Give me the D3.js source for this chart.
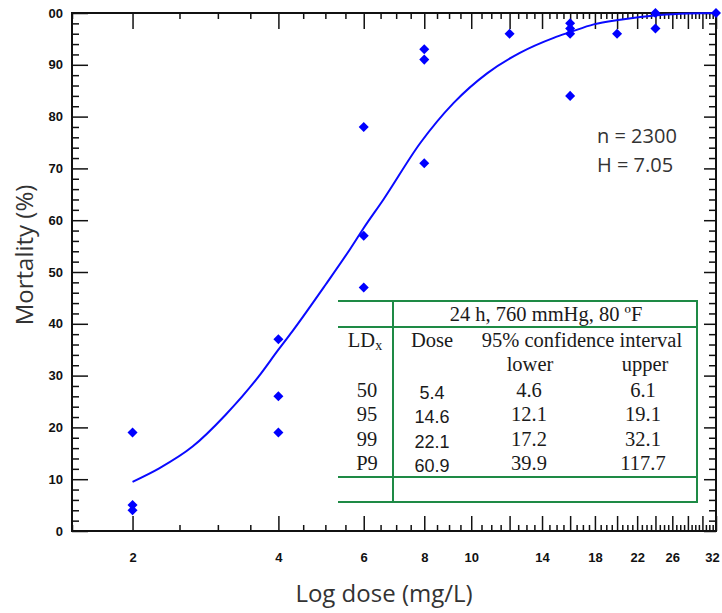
<!DOCTYPE html>
<html>
<head>
<meta charset="utf-8">
<script src="https://cdn.jsdelivr.net/npm/d3@7"></script>
<style>
  body { margin: 0; background: #fff; }
  svg { display: block; }
  .axis text { font-family: "Liberation Sans", Arial, sans-serif; font-weight: bold; font-size: 13px; fill: #111; }
</style>
</head>
<body>
<script>
// observed mortality per dose (diamonds)
var obsDose = [2, 2, 2, 4, 4, 4, 6, 6, 6, 8, 8, 8, 12, 16, 16, 16, 16, 20, 24, 24, 32];
var obsMort = [19, 5, 4, 37, 26, 19, 78, 57, 47, 93, 91, 71, 96, 98, 97, 96, 84, 96, 100, 97, 100];

// fitted curve
var fitDose = [2.0, 2.27, 2.66, 3.11, 3.64, 4.0, 4.27, 5.0, 5.63, 6.0, 6.59, 7.85, 9.19, 10.8, 12.6, 14.8, 16.0, 17.9, 20.3, 24.5, 28, 32];
var fitMort = [9.5, 12.1, 16.3, 22.4, 29.8, 35.0, 38.5, 47.5, 54.5, 58.5, 64.0, 74.9, 82.6, 88.4, 92.3, 95.2, 96.3, 97.8, 98.7, 99.6, 99.9, 100];

// axis ticks
var xTickLabels = [2, 4, 6, 8, 10, 14, 18, 22, 26, 32];
var yTickValues = [0, 10, 20, 30, 40, 50, 60, 70, 80, 90, 100];
var yTickLabels = ["0", "10", "20", "30", "40", "50", "60", "70", "80", "90", "00"];

// LD table
var ldLevels = ["50", "95", "99", "P9"];
var ldDose = ["5.4", "14.6", "22.1", "60.9"];
var ldLower = ["4.6", "12.1", "17.2", "39.9"];
var ldUpper = ["6.1", "19.1", "32.1", "117.7"];

var margin = {left: 72, right: 6, top: 13, bottom: 82};
var width = 722 - margin.left - margin.right;   // 644
var height = 613 - margin.top - margin.bottom;  // 518

var x = d3.scaleLog().base(2).domain([1.5, 32]).range([0, width]);
var y = d3.scaleLinear().domain([0, 100]).range([height, 0]);

// tick positions: majors at even doses, minors every 0.5
var xMajor = d3.range(2, 33, 2);
var xMinor = d3.range(1.5, 32, 0.5).filter(function(d) { return d % 2 !== 0; });
var yMinor = d3.range(0, 101, 2).filter(function(d) { return d % 10 !== 0; });

var svg = d3.select("body").append("svg").attr("width", 722).attr("height", 613);
var g = svg.append("g").attr("transform", "translate(" + margin.left + "," + margin.top + ")");

function cleanAxis(sel) {
  sel.select(".domain").remove();
  sel.selectAll(".tick line").attr("stroke", "#111").attr("stroke-width", 1.5);
}

// bottom axis (ticks pointing up)
g.append("g").attr("class", "axis").attr("transform", "translate(0," + height + ")")
  .call(d3.axisBottom(x).tickValues(xMinor).tickSize(-6).tickFormat(""))
  .call(cleanAxis);
g.append("g").attr("class", "axis").attr("transform", "translate(0," + height + ")")
  .call(d3.axisBottom(x).tickValues(xMajor).tickSize(-15).tickPadding(22)
    .tickFormat(function(d) { return xTickLabels.indexOf(d) >= 0 ? d : ""; }))
  .call(cleanAxis)
  .selectAll(".tick text").attr("dx", function(d) { return d === 32 ? -4 : 0; });

// top axis (ticks pointing down)
g.append("g").attr("class", "axis")
  .call(d3.axisTop(x).tickValues(xMinor).tickSize(-6).tickFormat(""))
  .call(cleanAxis);
g.append("g").attr("class", "axis")
  .call(d3.axisTop(x).tickValues(xMajor).tickSize(-16).tickFormat(""))
  .call(cleanAxis);

// left axis (ticks pointing right)
g.append("g").attr("class", "axis")
  .call(d3.axisLeft(y).tickValues(yMinor).tickSize(-7).tickFormat(""))
  .call(cleanAxis);
g.append("g").attr("class", "axis")
  .call(d3.axisLeft(y).tickValues(yTickValues).tickSize(-16).tickPadding(9)
    .tickFormat(function(d, i) { return yTickLabels[i]; }))
  .call(cleanAxis);

// right axis (ticks pointing left)
g.append("g").attr("class", "axis").attr("transform", "translate(" + width + ",0)")
  .call(d3.axisRight(y).tickValues(yMinor).tickSize(-7).tickFormat(""))
  .call(cleanAxis);
g.append("g").attr("class", "axis").attr("transform", "translate(" + width + ",0)")
  .call(d3.axisRight(y).tickValues(yTickValues).tickSize(-12).tickFormat(""))
  .call(cleanAxis);

// frame
g.append("path")
  .attr("d", "M0,0V" + height + "H" + width + "V0Z")
  .attr("fill", "none").attr("stroke", "#111").attr("stroke-width", 2);

// fitted curve
var line = d3.line()
  .x(function(d, i) { return x(fitDose[i]); })
  .y(function(d) { return y(d); })
  .curve(d3.curveMonotoneX);
g.append("path").datum(fitMort)
  .attr("d", line)
  .attr("fill", "none").attr("stroke", "#0a0aff").attr("stroke-width", 2);

// observations
g.append("g").selectAll("path")
  .data(obsMort)
  .enter().append("path")
    .attr("transform", function(d, i) { return "translate(" + x(obsDose[i]) + "," + y(d) + ")"; })
    .attr("d", d3.symbol(d3.symbolDiamond2, 64))
    .attr("fill", "#0000ff");

// axis titles
svg.append("text")
  .attr("x", 384).attr("y", 602)
  .attr("text-anchor", "middle")
  .attr("font-family", "Open Sans").attr("font-size", 24).attr("fill", "#333")
  .text("Log dose (mg/L)");
svg.append("text")
  .attr("transform", "translate(33,255) rotate(-90)")
  .attr("text-anchor", "middle")
  .attr("font-family", "Open Sans").attr("font-size", 24).attr("fill", "#333")
  .text("Mortality (%)");

// n and H
svg.append("text").attr("x", 597).attr("y", 143)
  .attr("font-family", "Open Sans").attr("font-size", 20).attr("fill", "#333")
  .text("n = 2300");
svg.append("text").attr("x", 597).attr("y", 172)
  .attr("font-family", "Open Sans").attr("font-size", 20).attr("fill", "#333")
  .text("H = 7.05");

// LD table
var green = "#1e8a45";
var tbl = svg.append("g");
tbl.append("rect").attr("x", 338).attr("y", 301).attr("width", 359).attr("height", 201).attr("fill", "#fff");
[301, 327, 477, 502].forEach(function(yy) {
  tbl.append("line").attr("x1", 338).attr("x2", 698).attr("y1", yy).attr("y2", yy)
    .attr("stroke", green).attr("stroke-width", 2);
});
[393, 697].forEach(function(xx) {
  tbl.append("line").attr("x1", xx).attr("x2", xx).attr("y1", 301).attr("y2", 502)
    .attr("stroke", green).attr("stroke-width", 2);
});

function serif(xx, yy, s) {
  return tbl.append("text").attr("x", xx).attr("y", yy)
    .attr("text-anchor", "middle")
    .attr("font-family", "Liberation Serif, Times New Roman, serif").attr("font-size", 20.5)
    .attr("fill", "#1a1a1a").text(s);
}
serif(546, 321, "24 h, 760 mmHg, 80 ºF");
var ld = serif(365, 347, "LD");
ld.append("tspan").attr("font-size", 14).attr("dy", 3).text("x");
serif(432, 347, "Dose");
serif(582, 347, "95% confidence interval");
serif(530, 371, "lower");
serif(645, 371, "upper");

var rowY = d3.scaleLinear().domain([0, 3]).range([397, 470]);
ldLevels.forEach(function(d, i) {
  serif(367, rowY(i), d);
  serif(529, rowY(i), ldLower[i]);
  serif(643, rowY(i), ldUpper[i]);
  tbl.append("text").attr("x", 432).attr("y", rowY(i) + 2)
    .attr("text-anchor", "middle")
    .attr("font-family", "Liberation Sans, Arial, sans-serif").attr("font-size", 18)
    .attr("fill", "#1a1a1a").text(ldDose[i]);
});
</script>
</body>
</html>
